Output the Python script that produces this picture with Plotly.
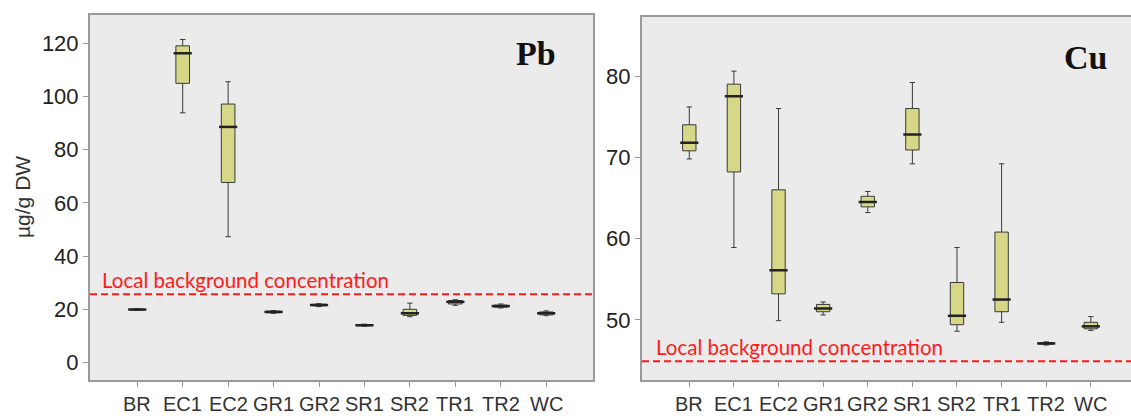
import plotly.graph_objects as go

sites = ["BR", "EC1", "EC2", "GR1", "GR2", "SR1", "SR2", "TR1", "TR2", "WC"]

# Pb (µg/g DW)
pb_low = [19.6, 93.9, 47.3, 18.5, 21.0, 13.6, 17.2, 21.5, 20.5, 17.6]
pb_q1 = [19.8, 105.0, 67.7, 18.7, 21.3, 13.8, 17.7, 22.0, 20.8, 17.9]
pb_med = [19.9, 116.3, 88.6, 19.0, 21.6, 14.0, 18.5, 22.8, 21.2, 18.5]
pb_q3 = [20.1, 119.1, 97.2, 19.3, 21.9, 14.2, 20.0, 23.3, 21.6, 19.0]
pb_high = [20.2, 121.5, 105.6, 19.5, 22.1, 14.4, 22.3, 23.6, 22.0, 19.4]
pb_background = 25.7

# Cu (µg/g DW)
cu_low = [69.8, 58.9, 49.9, 50.6, 63.2, 69.2, 48.6, 49.7, 46.9, 48.7]
cu_q1 = [70.8, 68.2, 53.2, 51.0, 63.9, 70.9, 49.4, 51.0, 47.0, 48.9]
cu_med = [71.8, 77.5, 56.1, 51.4, 64.5, 72.8, 50.5, 52.5, 47.1, 49.2]
cu_q3 = [74.0, 79.0, 66.0, 51.9, 65.2, 76.0, 54.6, 60.8, 47.2, 49.7]
cu_high = [76.2, 80.6, 76.0, 52.2, 65.8, 79.2, 58.9, 69.2, 47.3, 50.4]
cu_background = 44.9

bg_label = "Local background concentration"
y_title = "µg/g DW"

BOX_FILL = "#d6d888"
BOX_LINE = "#3a3a3a"
PLOT_BG = "#ebebeb"
FRAME = "#9a9a9a"
RED = "#ff1a1a"

fig = go.Figure()

def add_panel(low, q1, med, q3, high, xa, ya):
    fig.add_trace(go.Box(
        x=sites, q1=q1, median=med, q3=q3, lowerfence=low, upperfence=high,
        fillcolor=BOX_FILL, line=dict(color=BOX_LINE, width=1),
        width=0.3, whiskerwidth=0.4, boxpoints=False,
        xaxis=xa, yaxis=ya, showlegend=False, hoverinfo="skip",
    ))
    fig.add_trace(go.Scatter(
        x=sites, y=med, mode="markers",
        marker=dict(symbol="line-ew", size=13, line=dict(color="#222222", width=2.5)),
        xaxis=xa, yaxis=ya, showlegend=False, hoverinfo="skip",
    ))

add_panel(pb_low, pb_q1, pb_med, pb_q3, pb_high, "x", "y")
add_panel(cu_low, cu_q1, cu_med, cu_q3, cu_high, "x2", "y2")

W, H = 1131, 416
def px_x(p):
    return p / W
def px_y(p):
    return 1 - p / H

def ax(**kw):
    base = dict(
        showgrid=False, zeroline=False, showline=True, linecolor=FRAME, linewidth=2,
        ticks="outside", tickcolor="#999999", tickwidth=1,
    )
    base.update(kw)
    return base

yfont = dict(family="Liberation Sans, Arial", color="#222222", size=22)
xlab_font = dict(family="Liberation Sans, Arial", color="#333333", size=20)

fig.update_layout(
    width=W, height=H,
    margin=dict(l=0, r=0, t=0, b=0),
    paper_bgcolor="white",
    plot_bgcolor=PLOT_BG,
    xaxis=ax(domain=[px_x(90), px_x(593)], type="category",
             categoryorder="array", categoryarray=sites, mirror=True,
             range=[-1.04, 10.03], showticklabels=False, ticklen=5),
    yaxis=ax(domain=[px_y(380), px_y(15)], range=[-6.6, 130.7], mirror=True,
             tickvals=[0, 20, 40, 60, 80, 100, 120], tickfont=yfont, ticklen=5),
    xaxis2=ax(domain=[px_x(642), 1.0], type="category", anchor="y2", mirror=True,
              categoryorder="array", categoryarray=sites,
              range=[-1.06, 9.9], showticklabels=False, ticklen=5),
    yaxis2=ax(domain=[px_y(380), px_y(16.7)], range=[42.6, 87.3], anchor="x2",
              tickvals=[50, 60, 70, 80], tickfont=yfont, ticklen=5),
)

# category labels under each panel
for xa in ("x", "x2"):
    for s in sites:
        fig.add_annotation(xref=xa, yref="paper", x=s, y=px_y(404),
                           text=s, showarrow=False, xanchor="center", yanchor="middle",
                           font=xlab_font)

# background lines
fig.add_shape(type="line", xref="x domain", yref="y", x0=0, x1=1,
              y0=pb_background, y1=pb_background,
              line=dict(color=RED, width=2, dash="7px,4px"))
fig.add_shape(type="line", xref="x2 domain", yref="y2", x0=0, x1=1,
              y0=cu_background, y1=cu_background,
              line=dict(color=RED, width=2, dash="7px,4px"))

fig.add_annotation(xref="x domain", yref="y", x=0.02, y=pb_background, yshift=0,
                   text=bg_label, showarrow=False, xanchor="left", yanchor="bottom",
                   font=dict(family="Lato, Carlito, sans-serif", size=20.5, color=RED))
fig.add_annotation(xref="x2 domain", yref="y2", x=0.025, y=cu_background, yshift=0,
                   text=bg_label, showarrow=False, xanchor="left", yanchor="bottom",
                   font=dict(family="Lato, Carlito, sans-serif", size=20.5, color=RED))

# panel labels
fig.add_annotation(xref="paper", yref="paper", x=px_x(536), y=px_y(54),
                   text="<b>Pb</b>", showarrow=False, xanchor="center", yanchor="middle",
                   font=dict(family="Liberation Serif, Times New Roman", size=34, color="#111111"))
fig.add_annotation(xref="paper", yref="paper", x=px_x(1085), y=px_y(58),
                   text="<b>Cu</b>", showarrow=False, xanchor="center", yanchor="middle",
                   font=dict(family="Liberation Serif, Times New Roman", size=34, color="#111111"))

# y-axis title
fig.add_annotation(xref="paper", yref="paper", x=px_x(22), y=px_y(197),
                   text=y_title, showarrow=False, textangle=-90,
                   xanchor="center", yanchor="middle",
                   font=dict(family="Liberation Sans, Arial", size=21, color="#333333"))

fig.write_html("out.html", config={"displayModeBar": False},
               post_script="document.body.style.margin='0';document.body.style.overflow='hidden';")
